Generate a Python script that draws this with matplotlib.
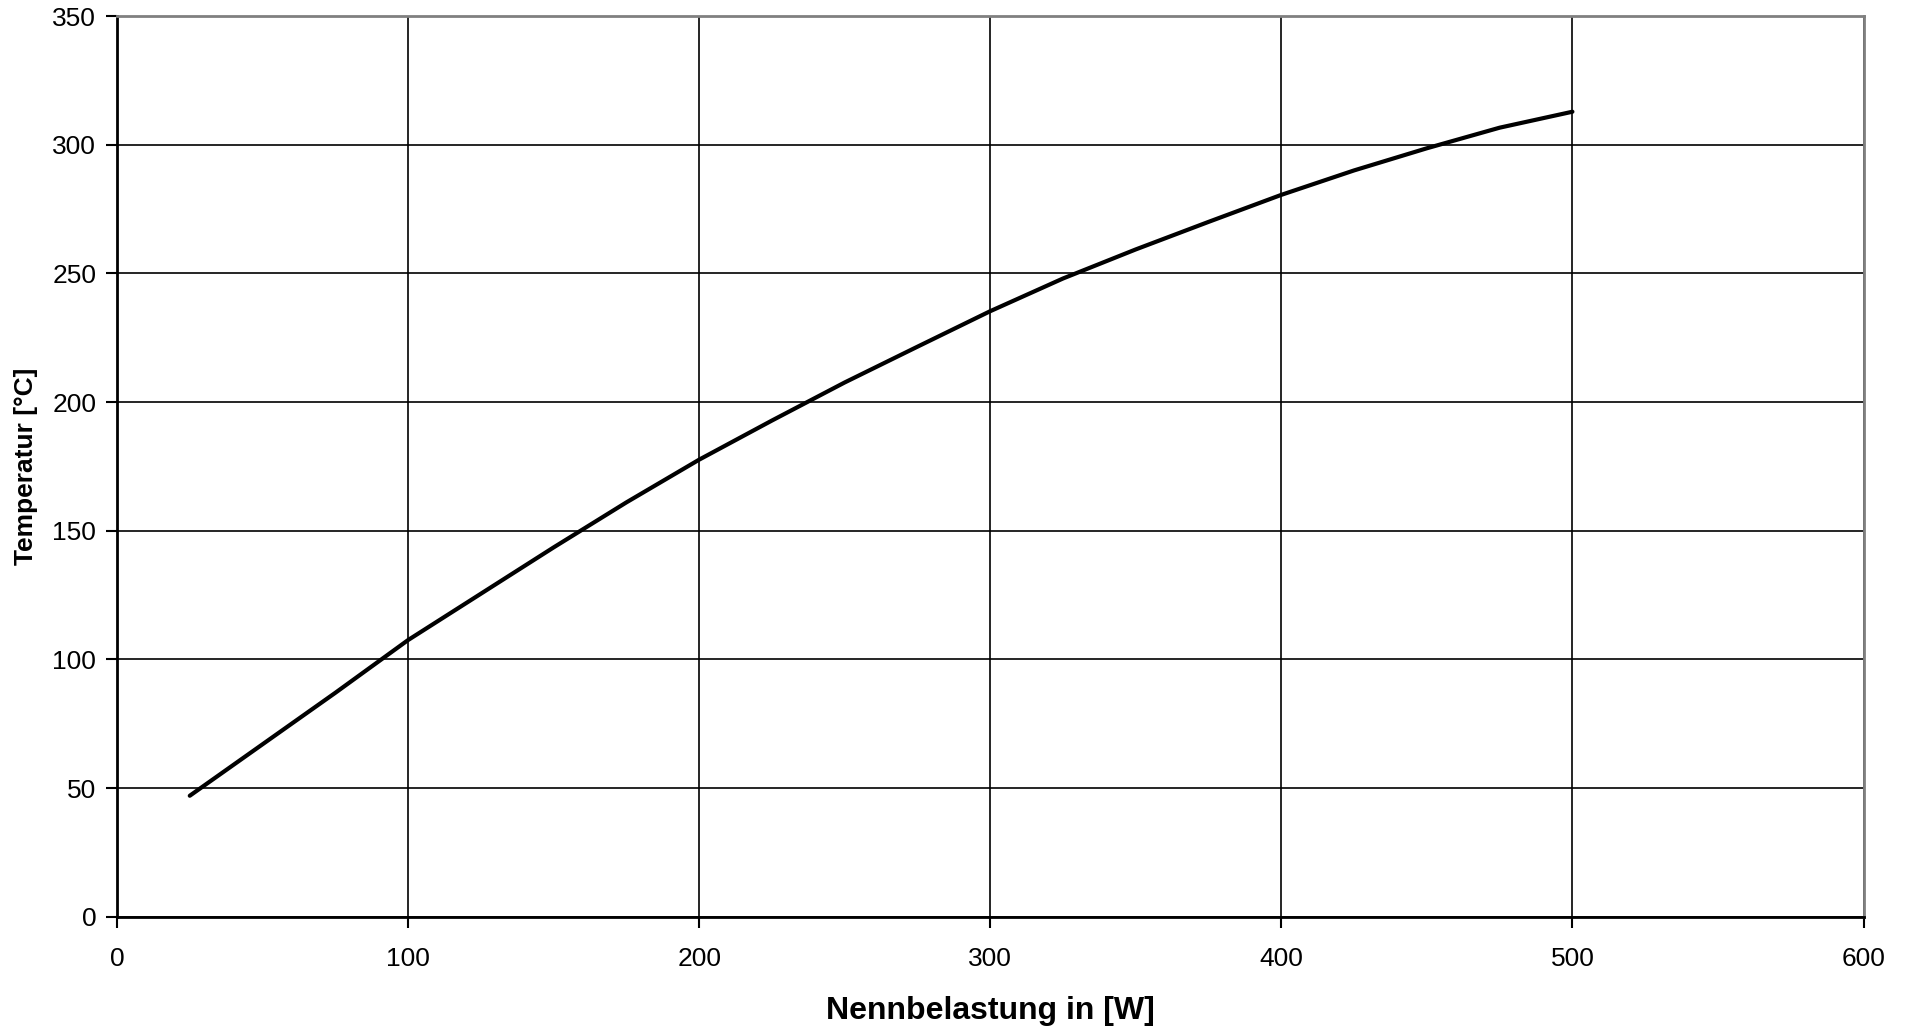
import matplotlib
matplotlib.use("Agg")
import matplotlib.pyplot as plt

# Data
power_w = [25, 50, 75, 100, 125, 150, 175, 200, 225, 250, 275, 300,
           325, 350, 375, 400, 425, 450, 475, 500]
temperature_c = [47, 67, 87, 107.5, 125.5, 143.5, 161, 177.6, 192.8, 207.6, 221.5, 235.3,
                 248, 259.3, 270, 280.5, 290, 298.6, 306.6, 312.8]

x_ticks = [0, 100, 200, 300, 400, 500, 600]
y_ticks = [0, 50, 100, 150, 200, 250, 300, 350]

plt.rcParams['font.family'] = ['Liberation Sans', 'DejaVu Sans']

fig = plt.figure(figsize=(19.12, 10.31), dpi=100)
ax = fig.add_axes([117/1912, 1 - 916.7/1031, (1863.5 - 117)/1912, (916.7 - 16)/1031])

ax.plot(power_w, temperature_c, color='black', lw=3.0, solid_capstyle='round',
        solid_joinstyle='round', zorder=3)

ax.set_xlim(0, 600)
ax.set_ylim(0, 350)
ax.set_xticks(x_ticks)
ax.set_yticks(y_ticks)
ax.grid(True, color='black', lw=1.2)
ax.set_axisbelow(True)

ax.tick_params(axis='both', direction='out', length=8, width=1.5, color='black',
               labelsize=19)
ax.tick_params(axis='y', pad=7)
ax.tick_params(axis='x', pad=14)

for s in ['left', 'bottom']:
    ax.spines[s].set_color('black')
    ax.spines[s].set_linewidth(2.0)
for s in ['top', 'right']:
    ax.spines[s].set_color('#808080')
    ax.spines[s].set_linewidth(2.0)

ax.set_xlabel('Nennbelastung in [W]', fontsize=23, fontweight='bold', labelpad=18)
ax.set_ylabel('Temperatur [°C]', fontsize=19, fontweight='bold', labelpad=10)

fig.savefig('out.png', dpi=100, facecolor='white')
